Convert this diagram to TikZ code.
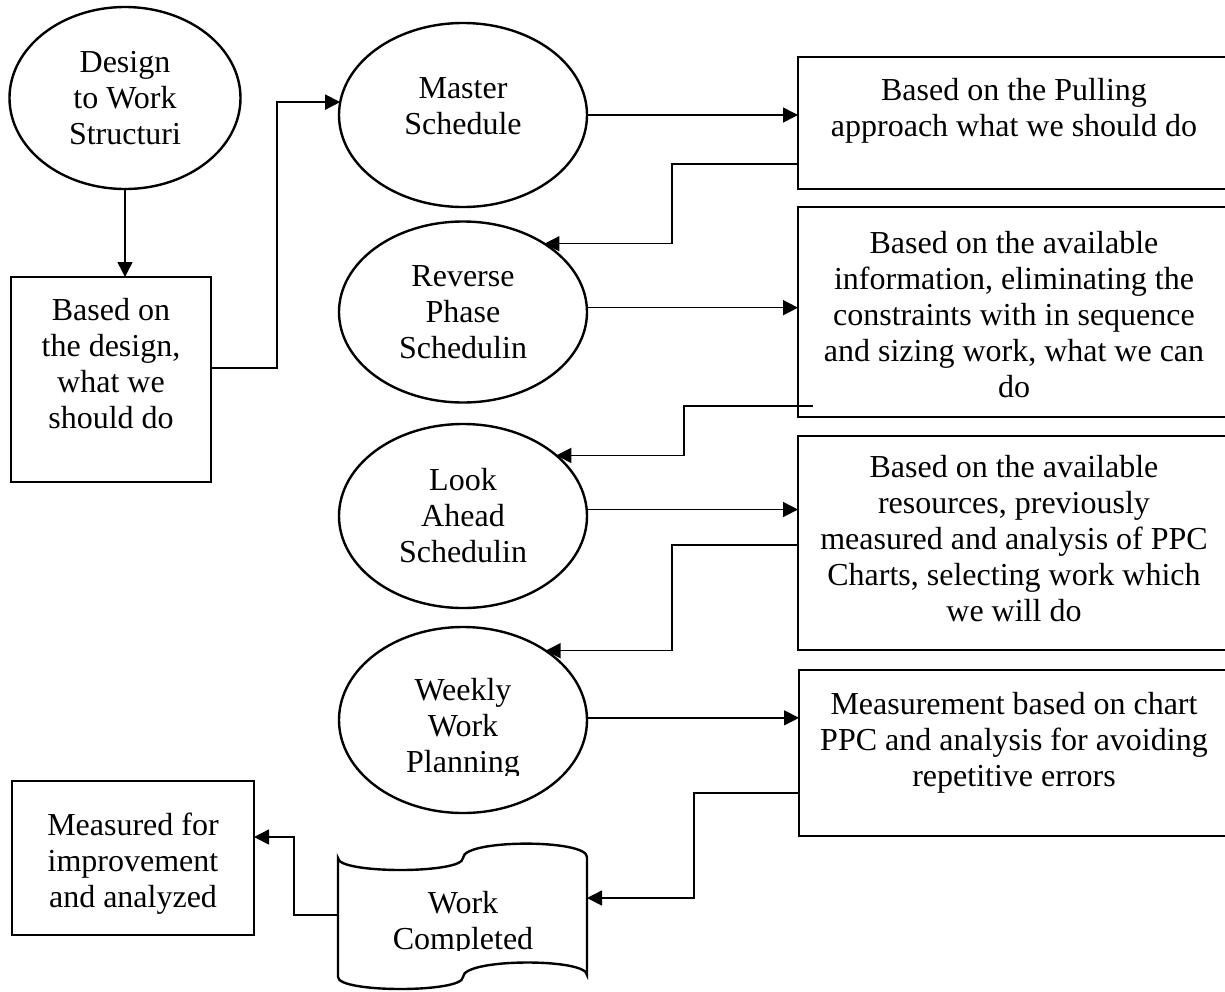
\documentclass[tikz,border=0pt]{standalone}
\usepackage{fontspec}
\setmainfont{Liberation Serif}
\usetikzlibrary{arrows.meta,shapes.geometric}
\begin{document}
\begin{tikzpicture}[x=0.5pt,y=-0.5pt,
  every node/.style={inner sep=0pt, outer sep=0pt, align=center,
    font=\fontsize{16pt}{18pt}\selectfont},
  oval/.style={ellipse, draw, line width=1.2pt, minimum width=124pt},
  stage/.style={rectangle, draw, line width=1.3pt, minimum width=216pt},
  conn/.style={line width=0.75pt},
  arr/.style={conn, -{Triangle[length=7.5pt,width=7.5pt]}},
]
\useasboundingbox (0,0) rectangle (1225,991);

% left column
\node[oval, minimum width=115.5pt, minimum height=91pt] (dws) at (125,98) {Design\\to Work\\Structuri};
\node[stage, minimum width=100pt, minimum height=102.5pt] (A) at (111,379.5) {};
\node[anchor=north] (At) at (111,298) {Based on\\the design,\\what we\\should do};

% planning levels
\node[oval, minimum height=92pt] (ms) at (463,115) {};
\node (mst) at (463,106) {Master\\Schedule};
\node[oval, minimum height=90.5pt] (rp) at (463,312) {Reverse\\Phase\\Schedulin};
\node[oval, minimum height=92pt] (la) at (463,516) {Look\\Ahead\\Schedulin};
\node[oval, minimum height=93pt] (ww) at (463,720) {};
\begin{scope}
  \clip (330,620) rectangle (600,775);
  \node (wwt) at (463,729) {Weekly\\Work\\Planning};
\end{scope}

% right column
\node[stage, minimum height=66pt] (b1) at (1014,123) {};
\node[anchor=north] (b1t) at (1014,78) {Based on the Pulling\\approach what we should do};
\node[stage, minimum height=105pt] (b2) at (1014,312) {};
\node[anchor=north] (b2t) at (1014,231) {Based on the available\\information, eliminating the\\constraints with in sequence\\and sizing work, what we can\\do};
\node[stage, minimum height=107pt] (b3) at (1014,543) {};
\node[anchor=north] (b3t) at (1014,455) {Based on the available\\resources, previously\\measured and analysis of PPC\\Charts, selecting work which\\we will do};
\node[stage, minimum width=215.5pt, minimum height=83pt] (b4) at (1014.5,753) {};
\node[anchor=north] (b4t) at (1014,692) {Measurement based on chart\\PPC and analysis for avoiding\\repetitive errors};

% completed work (punched tape outline)
\node[minimum width=124.5pt, minimum height=74pt] (wc) at (462.5,916) {};
\draw[line width=1.2pt] (338,858) .. controls (338,874) and (463,874) .. (463,858)
  .. controls (463,839) and (587,839) .. (587,857) -- (587,975)
  .. controls (587,958) and (463,958) .. (463,977)
  .. controls (463,993) and (338,993) .. (338,977) -- cycle;
\begin{scope}
  \clip (300,830) rectangle (620,950);
  \node (wct) at (463,924) {Work\\Completed};
\end{scope}

\node[stage, minimum width=121pt, minimum height=77pt] (b5) at (133,858) {};
\node[anchor=north] (b5t) at (133,813) {Measured for\\improvement\\and analyzed};

% connectors
\draw[arr] (dws.south) -- (dws.south |- A.north);
\draw[arr] (A.east |- 0,368) -- (277,368) |- (ms.174);
\draw[arr] (ms.east) -- (ms.east -| b1.west);
\draw[arr] (b1.west |- 0,164) -- (672,164) |- (rp.40);
\draw[arr] (rp.2) -- (rp.2 -| b2.west);
\coordinate (b2o) at (813,406);
\draw[arr] (b2o) -- (684,406) |- (la.33);
\draw[arr] (la.3) -- (la.3 -| b3.west);
\draw[arr] (b3.west |- 0,545) -- (672,545) |- (ww.40);
\draw[arr] (ww.1) -- (ww.1 -| b4.west);
\draw[arr] (b4.west |- 0,793) -- (694,793) |- (wc.east |- 0,898);
\draw[arr] (wc.west |- 0,915) -- (294,915) |- (b5.east |- 0,837);
\end{tikzpicture}
\end{document}
